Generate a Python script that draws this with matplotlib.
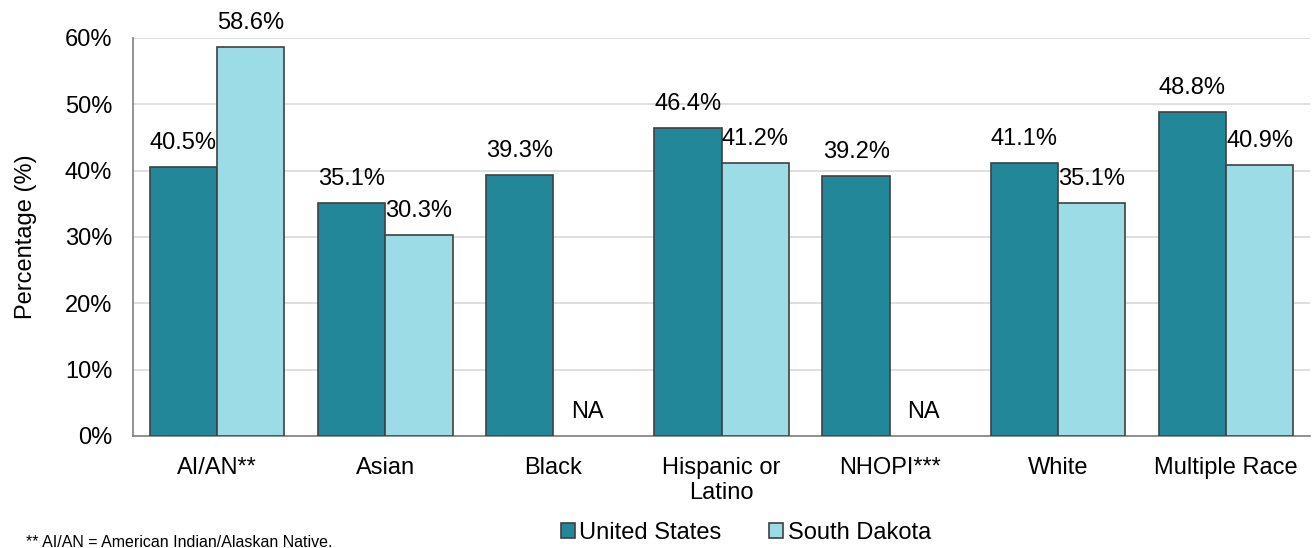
import matplotlib
matplotlib.use("Agg")
import matplotlib.pyplot as plt
import numpy as np

plt.rcParams["font.family"] = ["Liberation Sans", "DejaVu Sans"]

categories = ["AI/AN**", "Asian", "Black", "Hispanic or\nLatino", "NHOPI***", "White", "Multiple Race"]
us_values = [40.5, 35.1, 39.3, 46.4, 39.2, 41.1, 48.8]
sd_values = [58.6, 30.3, None, 41.2, None, 35.1, 40.9]

us_color = "#23879a"
sd_color = "#9cdce6"
fs = 17

fig = plt.figure(figsize=(13.13, 5.48), dpi=100)
ax = fig.add_axes([0.1013, 0.2044, 0.8965, 0.7263])

x = np.arange(len(categories))
w = 0.4
sd_plot = [v if v is not None else np.nan for v in sd_values]
ax.bar(x - w / 2, us_values, w, color=us_color, edgecolor="#404040", linewidth=1.2,
       label="United States", zorder=3)
ax.bar(x + w / 2, sd_plot, w, color=sd_color, edgecolor="#404040", linewidth=1.2,
       label="South Dakota", zorder=3)

for i, v in enumerate(us_values):
    ax.annotate(f"{v:.1f}%", (x[i] - w / 2, v), xytext=(0, 13), textcoords="offset points",
                ha="center", va="baseline", fontsize=fs)
for i, v in enumerate(sd_values):
    label = f"{v:.1f}%" if v is not None else "NA"
    ax.annotate(label, (x[i] + w / 2, v if v is not None else 0), xytext=(0, 13),
                textcoords="offset points", ha="center", va="baseline", fontsize=fs)

ax.set_xlim(-0.5, len(categories) - 0.5)
ax.set_ylim(0, 60)
ax.set_yticks(range(0, 61, 10))
ax.set_yticklabels([f"{t}%" for t in range(0, 61, 10)], fontsize=fs)
ax.set_xticks(x)
ax.set_xticklabels(categories, fontsize=fs)
ax.tick_params(axis="y", length=0, pad=15)
ax.tick_params(axis="x", length=0, pad=15)
ax.set_ylabel("Percentage (%)", fontsize=fs, labelpad=20)

ax.grid(axis="y", color="#d9d9d9", linewidth=1.2, zorder=0)
for s in ["top", "right"]:
    ax.spines[s].set_visible(False)
for s in ["left", "bottom"]:
    ax.spines[s].set_color("#808080")
    ax.spines[s].set_linewidth(1.2)

fig.legend(loc="lower center", bbox_to_anchor=(0.568, -0.032), ncol=2, frameon=False,
           fontsize=fs, handlelength=0.6, handleheight=0.6, handletextpad=0.2,
           columnspacing=2.0)
fig.text(0.02, 0.002, "** AI/AN = American Indian/Alaskan Native.", fontsize=11.5)

fig.savefig("out.png", dpi=100)
